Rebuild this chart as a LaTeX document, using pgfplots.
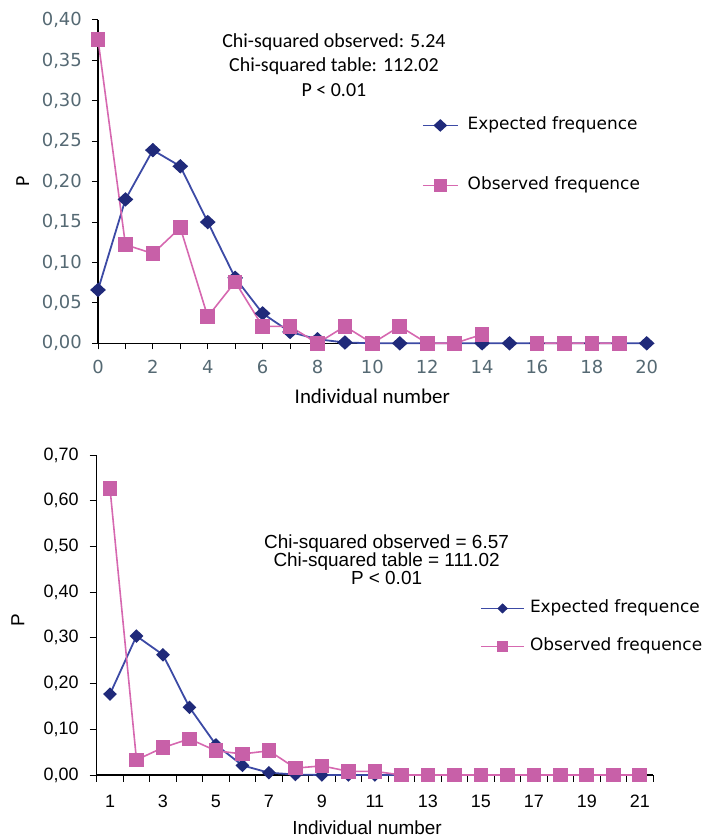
\documentclass[border=0pt]{standalone}
\usepackage{fontspec}
\usepackage{pgfplots}
\pgfplotsset{compat=1.18}
\setmainfont{Carlito}
\newfontfamily\tahoma{DejaVu Sans}
\newfontfamily\arial{Liberation Sans}
\definecolor{navy}{RGB}{32,42,122}
\definecolor{blueline}{RGB}{60,74,165}
\definecolor{pinkm}{RGB}{200,96,168}
\definecolor{pinkline}{RGB}{214,104,176}
\definecolor{tickgrey}{RGB}{85,105,115}
\begin{document}
\begin{tikzpicture}
\useasboundingbox (0,0) rectangle (706bp,838bp);
% ---------------- top chart ----------------
\begin{axis}[
  at={(98bp,494.7bp)}, anchor=south west,
  scale only axis, width=548.7bp, height=323.3bp,
  xmin=0, xmax=20, ymin=0, ymax=0.4,
  clip=false,
  axis x line=bottom, axis y line=left,
  axis line style={-, black, line width=1.2bp},
  tick align=outside,
  major tick length=6bp, minor tick length=6bp,
  tick style={black, line width=1bp},
  xtick={0,2,...,20}, minor xtick={1,3,...,19},
  ytick={0,0.05,0.1,0.15,0.2,0.25,0.3,0.35,0.4},
  /pgf/number format/.cd, fixed, fixed zerofill, precision=2, use comma, assume math mode=true,
  /pgfplots/.cd,
  xticklabel style={/pgf/number format/precision=0, /pgf/number format/fixed zerofill=false, font=\tahoma\fontsize{18}{20}\selectfont, text=tickgrey, inner sep=0pt, yshift=-11bp},
  yticklabel style={font=\tahoma\fontsize{18}{20}\selectfont, text=tickgrey, inner sep=0pt, xshift=-10bp},
  xlabel={Individual number},
  ylabel={P},
  xlabel style={at={(axis description cs:0.5,-0.165)}, anchor=center, font=\fontsize{21}{24}\selectfont},
  ylabel style={at={(axis description cs:-0.137,0.5)}, anchor=center, font=\fontsize{20}{24}\selectfont},
  unbounded coords=jump,
  legend style={at={(axis description cs:0.590,0.581)}, anchor=west, draw=none, fill=none,
    inner sep=0pt, row sep=44bp, column sep=9bp,
    font=\tahoma\fontsize{17}{20}\selectfont,
    nodes={inner sep=0pt, text height=12.5bp, text depth=3.5bp}},
  legend cell align=left,
  legend image code/.code={\draw[mark repeat=2,mark phase=2, every mark/.append style={scale=0.85}] plot coordinates {(0bp,0bp) (17.5bp,0bp) (35bp,0bp)};},
]
\addplot[blueline, line width=1.8bp, mark=diamond*, mark size=6bp,
  mark options={navy, fill=navy, xscale=1.45, solid}] coordinates {
(0,0.066) (1,0.178) (2,0.239) (3,0.219) (4,0.150) (5,0.081) (6,0.037) (7,0.014)
(8,0.005) (9,0.001) (10,0) (11,0) (12,0) (13,0) (14,0) (15,0) (16,0) (17,0)
(18,0) (19,0) (20,0)};
\addlegendentry{Expected frequence}
\addplot[pinkline, line width=1.6bp, mark=square*, mark size=6.5bp,
  mark options={pinkm, fill=pinkm, solid}] coordinates {
(0,0.376) (1,0.122) (2,0.111) (3,0.143) (4,0.033) (5,0.076) (6,0.021) (7,0.021)
(8,0) (9,0.021) (10,0) (11,0.021) (12,0) (13,0) (14,0.011) (15,nan)
(16,0) (17,0) (18,0) (19,0)};
\addlegendentry{Observed frequence}
\node[align=center, font=\fontsize{20}{24.5}\selectfont] at (axis description cs:0.430,0.861)
  {Chi-squared observed: 5.24\\Chi-squared table: 112.02\\P < 0.01};
\end{axis}
% ---------------- bottom chart ----------------
\begin{axis}[
  at={(96.75bp,63bp)}, anchor=south west,
  scale only axis, width=556.25bp, height=320bp,
  xmin=0.5, xmax=21.5, ymin=0, ymax=0.7,
  clip=false,
  axis x line=bottom, axis y line=left,
  axis line style={-, black, line width=1.2bp},
  tick align=outside,
  major tick length=7bp,
  tick style={black, line width=1bp},
  xtick={0.5,1.5,...,21.5}, xticklabels={},
  extra x ticks={1,3,...,21},
  extra x tick style={major tick length=0pt, xticklabel style={yshift=-20bp}},
  ytick={0,0.1,0.2,0.3,0.4,0.5,0.6,0.7},
  /pgf/number format/.cd, fixed, fixed zerofill, precision=2, use comma, assume math mode=true,
  /pgfplots/.cd,
  xticklabel style={/pgf/number format/precision=0, /pgf/number format/fixed zerofill=false, font=\arial\fontsize{18}{20}\selectfont, inner sep=0pt},
  yticklabel style={font=\arial\fontsize{18}{20}\selectfont, inner sep=0pt, xshift=-11bp},
  xlabel={Individual number},
  ylabel={P},
  xlabel style={at={(axis description cs:0.486,-0.166)}, anchor=center, font=\arial\fontsize{19}{22}\selectfont},
  ylabel style={at={(axis description cs:-0.1416,0.484)}, anchor=center, font=\arial\fontsize{19}{22}\selectfont},
  legend style={at={(axis description cs:0.689,0.461)}, anchor=west, draw=none, fill=none,
    inner sep=0pt, row sep=22bp, column sep=5bp,
    font=\tahoma\fontsize{17}{20}\selectfont,
    nodes={inner sep=0pt, text height=12.5bp, text depth=3.5bp}},
  legend cell align=left,
  legend image code/.code={\draw[mark repeat=2,mark phase=2, every mark/.append style={scale=0.7}] plot coordinates {(0bp,0bp) (21.5bp,0bp) (43bp,0bp)};},
]
\addplot[blueline, line width=1.8bp, mark=diamond*, mark size=5.5bp,
  mark options={navy, fill=navy, xscale=1.35, solid}] coordinates {
(1,0.177) (2,0.304) (3,0.263) (4,0.148) (5,0.066) (6,0.021) (7,0.005) (8,0.001)
(9,0) (10,0) (11,0) (12,0) (13,0) (14,0) (15,0) (16,0) (17,0) (18,0) (19,0) (20,0) (21,0)};
\addlegendentry{Expected frequence}
\addplot[pinkline, line width=1.6bp, mark=square*, mark size=6.5bp,
  mark options={pinkm, fill=pinkm, solid}] coordinates {
(1,0.627) (2,0.033) (3,0.060) (4,0.079) (5,0.053) (6,0.046) (7,0.053) (8,0.015)
(9,0.020) (10,0.008) (11,0.008) (12,0) (13,0) (14,0) (15,0) (16,0) (17,0) (18,0)
(19,0) (20,0) (21,0)};
\addlegendentry{Observed frequence}
\node[align=center, font=\arial\fontsize{19}{18.3}\selectfont] at (axis description cs:0.521,0.672)
  {Chi-squared observed = 6.57\\Chi-squared table = 111.02\\P < 0.01};
\end{axis}
\end{tikzpicture}
\end{document}
